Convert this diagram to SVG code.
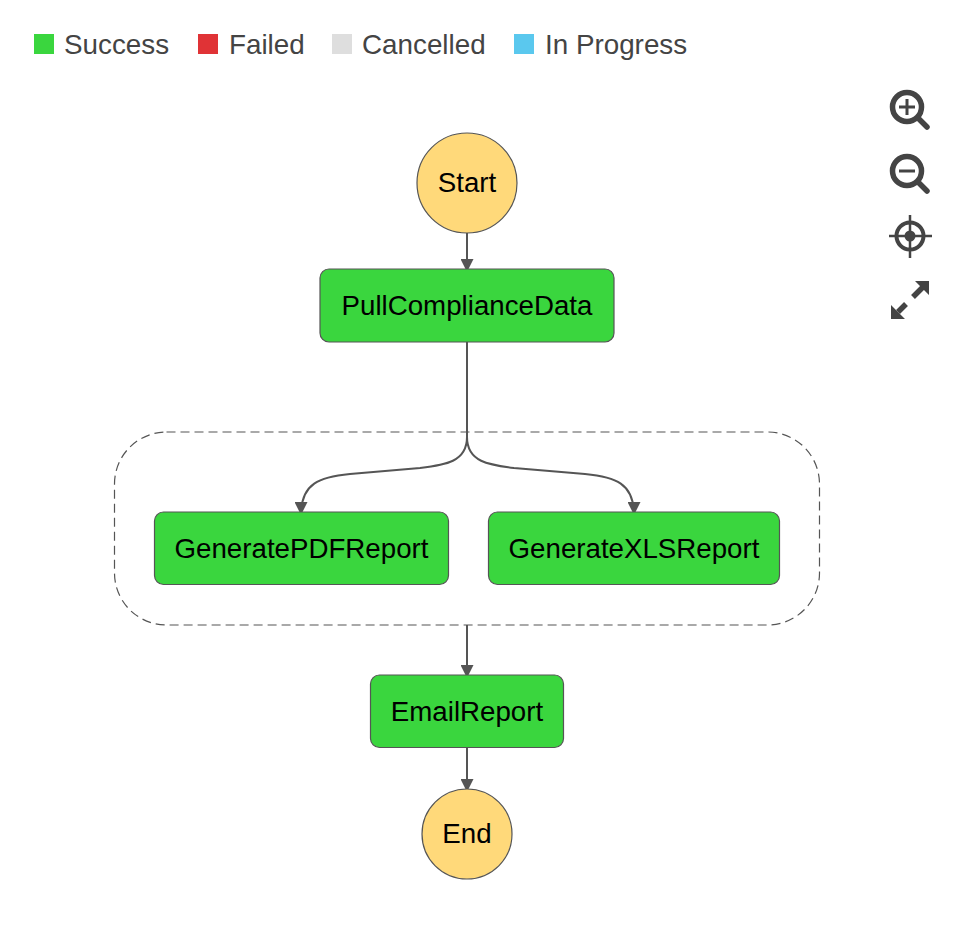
<svg xmlns="http://www.w3.org/2000/svg" width="956" height="926" viewBox="0 0 956 926">
<style>
text{font-family:"Liberation Sans",Arial,sans-serif}
.lg{font-size:27.800px;fill:#444}
.n{font-size:27.700px;fill:#000;text-anchor:middle}
.task{fill:#3ad63e;stroke:#555;stroke-width:1.2}
.term{fill:#ffd97a;stroke:#555;stroke-width:1.2}
.c{fill:none;stroke:#555;stroke-width:2}
.ic{fill:none;stroke:#444}
</style>
<defs>
<marker id="arr" markerUnits="userSpaceOnUse" markerWidth="14" markerHeight="13" refX="13" refY="6.500" orient="auto" viewBox="0 0 14 13"><path d="M0 0L13 6.500L0 13Z" fill="#555"/></marker></defs>
<g id="legend">
<rect x="34" y="34" width="20" height="20" fill="#3ad63e"/><text class="lg" x="64" y="54">Success</text>
<rect x="198" y="34" width="20" height="20" fill="#e03336"/><text class="lg" x="229" y="54">Failed</text>
<rect x="332" y="34" width="20" height="20" fill="#dedede"/><text class="lg" x="362" y="54">Cancelled</text>
<rect x="514" y="34" width="20" height="20" fill="#5ac8ee"/><text class="lg" x="545" y="54">In Progress</text>
</g>
<g id="zoom-controls">
<circle class="ic" cx="907" cy="107" r="14.500" stroke-width="5.500"/><path class="ic" stroke-width="3" d="M899 107H915M907 99V115"/><path class="ic" stroke-width="5.500" stroke-linecap="round" d="M918 118L927 127"/>
<circle class="ic" cx="907" cy="171" r="14.500" stroke-width="5.500"/><path class="ic" stroke-width="3" d="M899 171H915"/><path class="ic" stroke-width="5.500" stroke-linecap="round" d="M918 182L927 191"/>
<circle class="ic" cx="910" cy="236" r="13.500" stroke-width="4"/><circle cx="910" cy="236" r="5.500" fill="#444"/><path class="ic" stroke-width="2.500" d="M889 236H932M910 215V258"/>
<path class="ic" stroke-width="5.500" d="M898 312L906 304M913 297L923 287"/><path fill="#444" d="M929 281V295L915 281ZM891 319V305L905 319Z"/>
</g>
<g id="connectors">
<rect x="114.500" y="432" width="705" height="193" rx="52" fill="none" stroke="#555" stroke-width="1.200" stroke-dasharray="9 5"/>
<path class="c" d="M467 233V272" marker-end="url(#arr)"/>
<path class="c" d="M467 342V437C467 462 445 465 420 468L350 474C320 477 301 483 301 515" marker-end="url(#arr)"/>
<path class="c" d="M467 437C467 462 489 465 514 468L585 474C615 477 634 483 634 515" marker-end="url(#arr)"/>
<path class="c" d="M467 625V678" marker-end="url(#arr)"/>
<path class="c" d="M467 748V792" marker-end="url(#arr)"/>
</g>
<g id="start"><circle class="term" cx="467" cy="183" r="50"/><text class="n" x="467" y="192">Start</text></g>
<g id="pull"><rect class="task" x="320" y="269" width="294" height="73" rx="9"/><text class="n" x="467" y="315">PullComplianceData</text></g>
<g id="pdf"><rect class="task" x="154.500" y="512" width="294" height="72.500" rx="9"/><text class="n" x="301.500" y="558">GeneratePDFReport</text></g>
<g id="xls"><rect class="task" x="488.500" y="512" width="291" height="72.500" rx="9"/><text class="n" x="634" y="558">GenerateXLSReport</text></g>
<g id="email"><rect class="task" x="370.500" y="675" width="193" height="72.500" rx="9"/><text class="n" x="467" y="721">EmailReport</text></g>
<g id="end"><circle class="term" cx="467" cy="834" r="45"/><text class="n" x="467" y="843">End</text></g>
</svg>
